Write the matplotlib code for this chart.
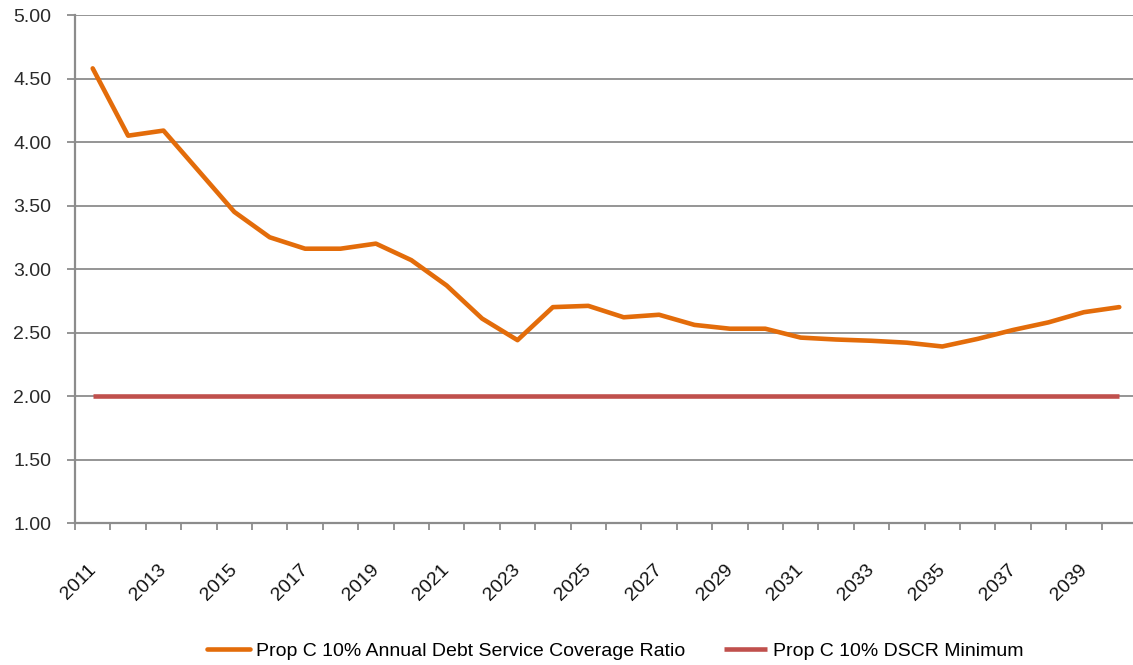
import numpy as np
import matplotlib.pyplot as plt

# --- data ---
years = list(range(2011, 2041))
dscr = [4.58, 4.05, 4.09, 3.77, 3.45, 3.25, 3.16, 3.16, 3.20, 3.07,
        2.87, 2.61, 2.44, 2.70, 2.71, 2.62, 2.64, 2.56, 2.53, 2.53,
        2.46, 2.445, 2.435, 2.42, 2.39, 2.45, 2.52, 2.58, 2.66, 2.70]
dscr_min = [2.00] * len(years)
y_ticks = [1.0, 1.5, 2.0, 2.5, 3.0, 3.5, 4.0, 4.5, 5.0]

label_main = 'Prop C 10% Annual Debt Service Coverage Ratio'
label_min = 'Prop C 10% DSCR Minimum'

orange = '#E36C0A'
red = '#C0504D'
grid_col = '#8C8C8C'
fam = ['Liberation Sans', 'DejaVu Sans']

fig = plt.figure(figsize=(11.33, 6.65), dpi=100)
ax = fig.add_axes([0.0662, 0.2135, 0.9373, 0.7639])

x = np.arange(len(years))
l1, = ax.plot(x, dscr, color=orange, lw=3.3, solid_capstyle='round', zorder=3)
l2, = ax.plot(x, dscr_min, color=red, lw=3.3, solid_capstyle='butt', zorder=3)

ax.set_xlim(-0.5, len(years) - 0.5)
ax.set_ylim(1.0, 5.0)

# y axis
ax.set_yticks(y_ticks)
ax.set_yticklabels(['%.2f' % v for v in y_ticks], family=fam, fontsize=14, color='#2a2a2a')
ax.yaxis.grid(True, color=grid_col, lw=1.3)
ax.set_axisbelow(True)
ax.tick_params(axis='y', length=6, color=grid_col, width=1.3, pad=11)

# x axis: ticks at category boundaries, labels every other year
ax.set_xticks(np.arange(len(years) + 1) - 0.5)
ax.set_xticklabels([])
ax.tick_params(axis='x', length=5, color=grid_col, width=1.3)
for i, yr in enumerate(years):
    if i % 2 == 0:
        ax.text(i - 0.16, -0.075, str(yr), transform=ax.get_xaxis_transform(),
                rotation=45, ha='right', va='top', rotation_mode='anchor',
                fontsize=14, family=fam, color='#111111')

for s in ['top', 'right']:
    ax.spines[s].set_visible(False)
for s in ['left', 'bottom']:
    ax.spines[s].set_color(grid_col)
    ax.spines[s].set_linewidth(1.6)

fig.legend([l1, l2], [label_main, label_min], loc='center', ncol=2,
           bbox_to_anchor=(0.543, 0.021), frameon=False,
           prop={'family': fam, 'size': 14},
           handlelength=2.2, handletextpad=0.3, columnspacing=2.0)

fig.savefig('out.png', dpi=100)
